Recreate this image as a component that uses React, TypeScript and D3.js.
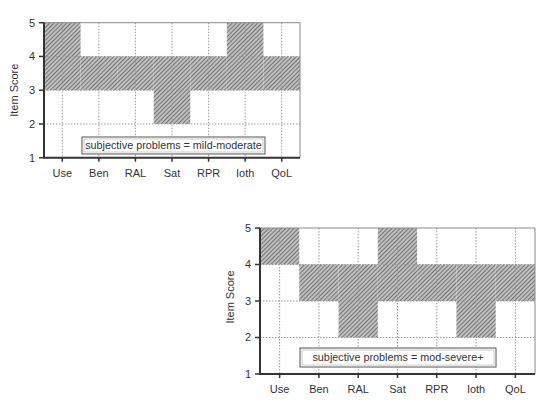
import React from "react";
import * as d3 from "d3";

const categories = ["Use", "Ben", "RAL", "Sat", "RPR", "Ioth", "QoL"];
const yTicks = [1, 2, 3, 4, 5];
const mildLow = [3, 3, 3, 2, 3, 3, 3];
const mildHigh = [5, 4, 4, 4, 4, 5, 4];
const severeLow = [4, 3, 2, 3, 3, 2, 3];
const severeHigh = [5, 4, 4, 5, 4, 4, 4];
const labelMild = "subjective problems = mild-moderate";
const labelSevere = "subjective problems = mod-severe+";

type PanelProps = {
  left: number; right: number; top: number; bottom: number;
  low: number[]; high: number[]; label: string;
  legend: { x0: number; x1: number; y0: number; y1: number };
  id: string; titleShift: number;
};

function Panel({ left, right, top, bottom, low, high, label, legend, id, titleShift }: PanelProps) {
  const x = d3.scaleBand<string>().domain(categories).range([left, right]).padding(0);
  const y = d3.scaleLinear().domain([1, 5]).range([bottom, top]);
  const font = "'Liberation Sans', Arial, sans-serif";
  return (
    <g>
      <defs>
        <pattern id={id} patternUnits="userSpaceOnUse" width={3} height={3} patternTransform="rotate(45)">
          <rect width={3} height={3} fill="#c0c0c0" />
          <line x1={0} y1={0} x2={0} y2={3} stroke="#474747" strokeWidth={1.3} />
        </pattern>
      </defs>
      {categories.map((c, i) => (
        <rect key={c} x={x(c)} y={y(high[i])} width={x.bandwidth()} height={y(low[i]) - y(high[i])} fill={`url(#${id})`} />
      ))}
      {categories.map((c) => (
        <line key={"gv" + c} x1={x(c)! + x.bandwidth() / 2} x2={x(c)! + x.bandwidth() / 2} y1={top} y2={bottom}
          stroke="#9a9a9a" strokeWidth={1} strokeDasharray="1.5,1.5" />
      ))}
      {[2, 3, 4].map((t) => (
        <line key={"gh" + t} x1={left} x2={right} y1={y(t)} y2={y(t)} stroke="#9a9a9a" strokeWidth={1} strokeDasharray="1.5,1.5" />
      ))}
      <line x1={left} x2={right} y1={top} y2={top} stroke="#888" strokeWidth={1} />
      <line x1={right} x2={right} y1={top} y2={bottom} stroke="#888" strokeWidth={1} />
      <line x1={left} x2={left} y1={top} y2={bottom} stroke="#333" strokeWidth={2} />
      <line x1={left - 1} x2={right} y1={bottom} y2={bottom} stroke="#333" strokeWidth={2} />
      {yTicks.map((t) => (
        <g key={"yt" + t}>
          <line x1={left - 5} x2={left} y1={y(t)} y2={y(t)} stroke="#333" strokeWidth={1.5} />
          <text x={left - 9} y={y(t)} dy="0.35em" textAnchor="end" fontSize={11} fontFamily={font} fill="#333">{t}</text>
        </g>
      ))}
      {categories.map((c) => (
        <g key={"xt" + c}>
          <line x1={x(c)! + x.bandwidth() / 2} x2={x(c)! + x.bandwidth() / 2} y1={bottom} y2={bottom + 4} stroke="#333" strokeWidth={1.5} />
          <text x={x(c)! + x.bandwidth() / 2} y={bottom + 19} textAnchor="middle" fontSize={11} fontFamily={font} fill="#333">{c}</text>
        </g>
      ))}
      <text transform={`translate(${left - 26},${(top + bottom) / 2 + titleShift}) rotate(-90)`} textAnchor="middle" fontSize={11} fontFamily={font} fill="#333">Item Score</text>
      <rect x={legend.x0} y={legend.y0} width={legend.x1 - legend.x0} height={legend.y1 - legend.y0} fill="#fff" stroke="#555" strokeWidth={1} />
      <rect x={legend.x0 + 2} y={legend.y0 + 2} width={legend.x1 - legend.x0 - 4} height={legend.y1 - legend.y0 - 4} fill="none" stroke="#aaa" strokeWidth={0.6} />
      <text x={(legend.x0 + legend.x1) / 2} y={(legend.y0 + legend.y1) / 2} dy="0.35em" textAnchor="middle" fontSize={10.8} fontFamily={font} fill="#333">{label}</text>
    </g>
  );
}

export default function App() {
  return (
    <svg width={539} height={403} style={{ position: "absolute", left: 0, top: 0, background: "#fff" }}>
      <Panel id="hatchA" left={44} right={300} top={22.7} bottom={157.7} low={mildLow} high={mildHigh} label={labelMild}
        legend={{ x0: 82, x1: 265, y0: 137, y1: 154 }} titleShift={0} />
      <Panel id="hatchB" left={260} right={535} top={228} bottom={374} low={severeLow} high={severeHigh} label={labelSevere}
        legend={{ x0: 300, x1: 496, y0: 348, y1: 367 }} titleShift={-4} />
    </svg>
  );
}
